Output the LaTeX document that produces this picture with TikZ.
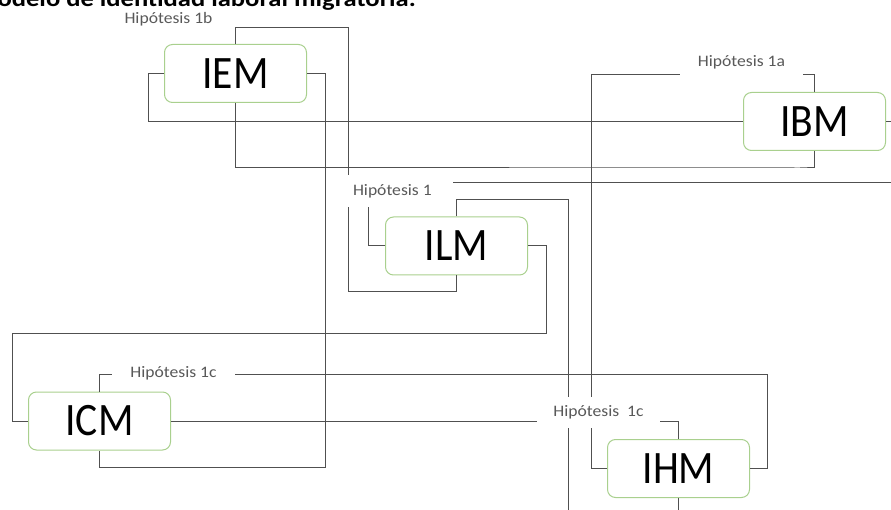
\documentclass[tikz,border=0pt]{standalone}
\usepackage{fontspec}
\setmainfont{Carlito}
\definecolor{boxgreen}{RGB}{169,208,142}
\definecolor{linegray}{RGB}{80,80,80}
\definecolor{labelgray}{RGB}{89,89,89}
\begin{document}
\begin{tikzpicture}[x=1pt,y=-1pt,
  box/.style={draw=boxgreen, line width=1pt, rounded corners=8pt, fill=white,
    minimum width=142pt, minimum height=58pt, inner sep=0pt,
    font=\fontsize{41.5}{41.5}\selectfont},
  conn/.style={draw=linegray, line width=1pt},
  hyp/.style={fill=white, text=labelgray, inner sep=0pt,
    font=\fontsize{16}{16}\selectfont}]
\clip (0,0) rectangle (891,510);
\useasboundingbox (0,0) rectangle (891,510);

% title (cut at top)
\node[anchor=base east, inner sep=0pt, font=\bfseries\fontsize{23}{23}\selectfont] (title) at (416,7)
  {\scalebox{1.155}[1]{Modelo de identidad laboral migratoria.}};

% boxes
\node[box] (IEM) at (235.5,73.5) {\scalebox{1}[1.12]{IEM}};
\node[box] (IBM) at (814.5,121.5) {\scalebox{1}[1.12]{IBM}};
\node[box] (ILM) at (456.5,246) {\scalebox{1}[1.12]{ILM}};
\node[box] (ICM) at (99.5,421) {\scalebox{1}[1.12]{ICM}};
\node[box] (IHM) at (678.5,468.5) {\scalebox{1}[1.12]{IHM}};

% connectors
\draw[conn] (IEM.north) |- (348,28) -- (348,292) -| (ILM.south);
\draw[conn] (ILM.west) -| (368,183) -- (891,183);
\draw[conn] (ILM.north) |- (568,200) -- (568,510);
\draw[conn] (ILM.east) -| (546,334) -- (12,334) |- (ICM.west);
\draw[conn] (IEM.west) -| (148,121.5) -- (IBM.west);
\draw[conn] (IEM.south) |- (800,168) -| (IBM.south);
\draw[conn] (IEM.east) -| (325,467) -| (ICM.south);
\draw[conn] (IBM.north) |- (591,75) |- (IHM.west);
\draw[conn] (IBM.east) -- (891,121.5);
\draw[conn] (ICM.north) |- (767,374) |- (IHM.east);
\draw[conn] (ICM.east) -| (IHM.north);
\draw[conn] (IHM.south) -- (678.5,510);

% hypothesis labels
\node[text=labelgray, inner sep=0pt, font=\fontsize{16}{16}\selectfont] (h1b) at (168.5,19.5) {\scalebox{1.1}[1]{Hipótesis 1b}};
\node[hyp, minimum width=107pt, minimum height=32pt] (h1) at (399.5,191)
  {\makebox[93pt][l]{\scalebox{1.1}[1]{Hipótesis 1}}};
\node[hyp, minimum width=123pt, minimum height=30pt] (h1a) at (741.5,62) {\scalebox{1.1}[1]{Hipótesis 1a}};
\node[hyp, minimum width=123pt, minimum height=24pt] (h1c) at (173.5,373.5) {\scalebox{1.1}[1]{Hipótesis 1c}};
\node[hyp, minimum width=123pt, minimum height=31pt] (h1cb) at (598.5,412.5) {\scalebox{1.1}[1]{Hipótesis\ \ 1c}};
\end{tikzpicture}
\end{document}
